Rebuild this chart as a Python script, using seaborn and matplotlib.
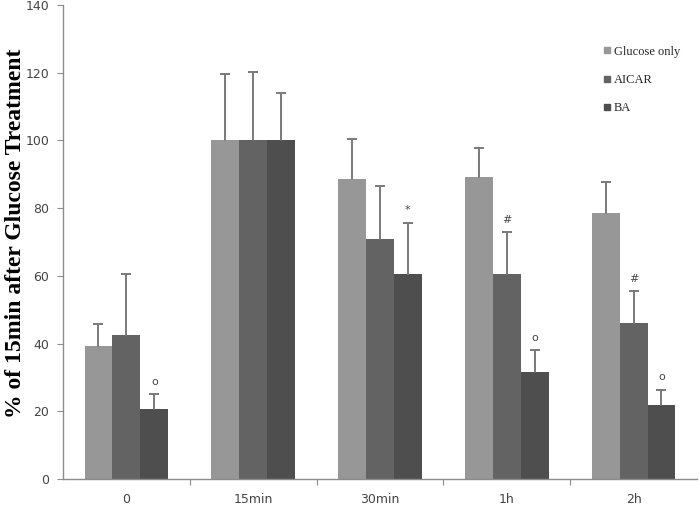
import matplotlib.pyplot as plt
import matplotlib.ticker as mticker
import seaborn as sns
import pandas as pd
import numpy as np

# --- data ---
times = ['0', '15min', '30min', '1h', '2h']
groups = ['Glucose only', 'AICAR', 'BA']
glucose = [39.4, 100, 88.5, 89.3, 78.6]
aicar = [42.6, 100, 71.0, 60.5, 46.0]
ba = [20.7, 100, 60.7, 31.5, 21.9]
glucose_err = [6.4, 19.6, 11.8, 8.4, 9.0]
aicar_err = [18.0, 20.2, 15.6, 12.4, 9.4]
ba_err = [4.3, 14.0, 15.0, 6.5, 4.5]
# significance marks (group, time index, symbol)
marks = [('BA', 0, 'o'), ('BA', 2, '*'), ('AICAR', 3, '#'), ('BA', 3, 'o'),
         ('AICAR', 4, '#'), ('BA', 4, 'o')]

colors = ['#979797', '#636363', '#4e4e4e']

df = pd.DataFrame({
    'Time': times * 3,
    'Value': glucose + aicar + ba,
    'Err': glucose_err + aicar_err + ba_err,
    'Group': [g for g in groups for _ in times],
})

sns.set_theme(style="white")
plt.rcParams['font.family'] = ['DejaVu Sans']

fig = plt.figure(figsize=(6.99, 5.09), dpi=100)
ax = fig.add_axes([0.0901, 0.0589, 0.907, 0.9311])

sns.barplot(data=df, x='Time', y='Value', hue='Group', order=times,
            hue_order=groups, palette=colors, width=0.66, errorbar=None,
            saturation=1, linewidth=0, ax=ax, legend=False)

# upward-only error bars (no cap at the bar top) and marks
tops = {}
for g, cont in zip(groups, ax.containers):
    sub = df[df['Group'] == g].set_index('Time').loc[times]
    for i, bar in enumerate(cont):
        xc = bar.get_x() + bar.get_width() / 2
        v = sub['Value'].iloc[i]
        e = sub['Err'].iloc[i]
        ax.plot([xc, xc], [v, v + e], color='#7a7a7a', lw=1.4, zorder=3)
        ax.plot(xc, v + e, marker='_', markersize=7, mew=1.4,
                color='#7a7a7a', zorder=3)
        tops[(g, i)] = (xc, v + e)

for g, i, sym in marks:
    xc, top = tops[(g, i)]
    ax.text(xc, top + 2.2, sym, ha='center', va='bottom', fontsize=8,
            color='#444444')

ax.set_ylim(0, 140)
ax.set_xlim(-0.5, len(times) - 0.5)
ax.yaxis.set_major_locator(mticker.MultipleLocator(20))
ax.set_xlabel('')
ax.set_ylabel('% of 15min after Glucose Treatment', family='Liberation Serif',
              fontweight='bold', fontsize=17, color='black')
ax.yaxis.set_label_coords(-0.058, 0.518)

for s in ['top', 'right']:
    ax.spines[s].set_visible(False)
for s in ['left', 'bottom']:
    ax.spines[s].set_color('#8c8c8c')
    ax.spines[s].set_linewidth(1.0)

ax.tick_params(axis='y', which='major', left=True, length=4, width=0.8,
               color='#8c8c8c', labelsize=9, labelcolor='#444444', pad=6)
ax.tick_params(axis='x', which='major', length=0, labelsize=9,
               labelcolor='#444444', pad=10)
ax.xaxis.set_minor_locator(mticker.FixedLocator(np.arange(0.5, len(times) - 0.5, 1)))
ax.tick_params(axis='x', which='minor', bottom=True, length=4, width=0.8,
               color='#8c8c8c')

# legend with small square markers
handles = [plt.Line2D([], [], marker='s', linestyle='', markersize=5,
                      markerfacecolor=c, markeredgecolor=c) for c in colors]
ax.legend(handles, groups, loc='upper left', bbox_to_anchor=(0.845, 0.925),
          frameon=False, handlelength=0.6, handletextpad=0.2,
          labelspacing=1.3, borderaxespad=0,
          prop={'family': 'Liberation Serif', 'size': 9})

fig.savefig('out.png', dpi=100, facecolor='white')
